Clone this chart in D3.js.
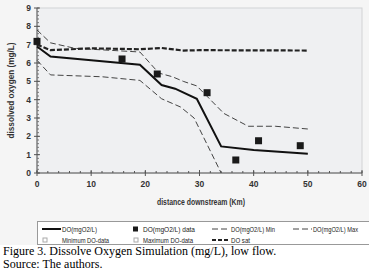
<!DOCTYPE html>
<html>
<head>
<meta charset="utf-8">
<script src="https://cdn.jsdelivr.net/npm/d3@7"></script>
<style>
  body { margin: 0; background: #fff; }
  svg { display: block; }
</style>
</head>
<body>
<svg id="svg"></svg>
<script>
// distance downstream (km) and DO values
let simKm    = [0, 2.5, 10, 19, 23, 25.5, 29.5, 34, 40, 50];
let simDO    = [6.9, 6.35, 6.15, 5.9, 4.8, 4.6, 4.05, 1.45, 1.25, 1.05];

let maxKm    = [0, 2.5, 7, 19, 22.5, 25, 27, 29.5, 31.5, 34.5, 39, 44, 50];
let maxDO    = [7.8, 7.1, 6.8, 6.6, 5.45, 5.25, 5.0, 4.75, 4.15, 3.25, 2.55, 2.55, 2.4];

let minKm    = [0, 2.5, 12, 19, 23, 26.5, 29, 34];
let minDO    = [6.15, 5.35, 5.25, 5.05, 4.05, 3.6, 3.0, 0];

let satKm    = [0, 2.5, 10, 19, 23, 27, 30, 50];
let satDO    = [7.0, 6.7, 6.8, 6.75, 6.82, 6.68, 6.7, 6.68];

let dataKm   = [0, 15.7, 22.2, 31.4, 36.7, 40.9, 48.6];
let dataDO   = [7.18, 6.22, 5.4, 4.38, 0.71, 1.76, 1.49];

let xTicks = [0, 10, 20, 30, 40, 50, 60];
let yTicks = [0, 1, 2, 3, 4, 5, 6, 7, 8, 9];

let legendRow1 = ["DO(mgO2/L)", "DO(mgO2/L) data", "DO(mgO2/L) Min", "DO(mgO2/L) Max"];
let legendRow2 = ["Minimum DO-data", "Maximum DO-data", "DO sat"];

//////////////////////////////////////////////////////////////////////////////

let width = 381;
let height = 276;
let margin = { top: 8, right: 19, bottom: 103, left: 37 };
let font = "'Liberation Sans Narrow', 'Liberation Sans', Arial, sans-serif";

let svg = d3.select("#svg")
  .attr("width", width)
  .attr("height", height);

// light gray chart box behind everything except the caption
svg.append("rect")
  .attr("x", 0).attr("y", 0)
  .attr("width", 369).attr("height", 245)
  .attr("fill", "#f5f5f5");

let x = d3.scaleLinear().domain([0, 60]).range([margin.left, width - margin.right]);
let y = d3.scaleLinear().domain([0, 9]).range([height - margin.bottom, margin.top]);

// plot area
svg.append("rect")
  .attr("x", x(0)).attr("y", y(9))
  .attr("width", x(60) - x(0)).attr("height", y(0) - y(9))
  .attr("fill", "#eff0f2")
  .attr("stroke", "#d2d3d5")
  .attr("stroke-width", 1);

// axes: major ticks cross the line, minor ticks inside
let xAxis = svg.append("g").attr("transform", "translate(0," + y(0) + ")");
xAxis.append("line")
  .attr("x1", x(0)).attr("x2", x(60))
  .attr("stroke", "#555");
xAxis.selectAll(".minor")
  .data(d3.range(0, 61, 2))
  .enter().append("line")
  .attr("x1", d => x(d)).attr("x2", d => x(d))
  .attr("y1", -2).attr("y2", 0)
  .attr("stroke", "#555");
xAxis.selectAll(".major")
  .data(xTicks)
  .enter().append("line")
  .attr("x1", d => x(d)).attr("x2", d => x(d))
  .attr("y1", -3).attr("y2", 3)
  .attr("stroke", "#555");
xAxis.selectAll("text")
  .data(xTicks)
  .enter().append("text")
  .attr("x", d => x(d)).attr("y", 14)
  .attr("text-anchor", "middle")
  .attr("font-family", font).attr("font-size", 8.5).attr("font-weight", "bold")
  .attr("fill", "#333")
  .text(d => d);

let yAxis = svg.append("g").attr("transform", "translate(" + x(0) + ",0)");
yAxis.append("line")
  .attr("y1", y(0)).attr("y2", y(9))
  .attr("stroke", "#555");
yAxis.selectAll(".minor")
  .data(d3.range(0, 9.01, 0.2))
  .enter().append("line")
  .attr("y1", d => y(d)).attr("y2", d => y(d))
  .attr("x1", 0).attr("x2", 2)
  .attr("stroke", "#777");
yAxis.selectAll(".major")
  .data(yTicks)
  .enter().append("line")
  .attr("y1", d => y(d)).attr("y2", d => y(d))
  .attr("x1", -3).attr("x2", 3)
  .attr("stroke", "#555");
yAxis.selectAll("text")
  .data(yTicks)
  .enter().append("text")
  .attr("x", -6).attr("y", d => y(d) + 3)
  .attr("text-anchor", "end")
  .attr("font-family", font).attr("font-size", 8.5).attr("font-weight", "bold")
  .attr("fill", "#333")
  .text(d => d);

// axis titles (condensed to the width seen in the figure)
svg.append("text")
  .attr("x", 157).attr("y", 205)
  .attr("textLength", 88).attr("lengthAdjust", "spacingAndGlyphs")
  .attr("font-family", font).attr("font-size", 8.5).attr("font-weight", "bold")
  .attr("fill", "#333")
  .text("distance downstream (Km)");

svg.append("text")
  .attr("transform", "translate(14," + (y(4.5) + 48) + ") rotate(-90)")
  .attr("textLength", 96).attr("lengthAdjust", "spacingAndGlyphs")
  .attr("font-family", font).attr("font-size", 8.5).attr("font-weight", "bold")
  .attr("fill", "#333")
  .text("dissolved oxygen (mg/L)");

// lines
let line = d3.line().x(d => x(d[0])).y(d => y(d[1]));

function drawSeries(km, vals, stroke, w, dash) {
  svg.append("path")
    .datum(d3.zip(km, vals))
    .attr("d", line)
    .attr("fill", "none")
    .attr("stroke", stroke)
    .attr("stroke-width", w)
    .attr("stroke-dasharray", dash);
}

drawSeries(maxKm, maxDO, "#444", 1, "6,3");
drawSeries(minKm, minDO, "#444", 1, "6,3");
drawSeries(satKm, satDO, "#222", 2.2, "5,2");
drawSeries(simKm, simDO, "#111", 2, null);

// measured data squares
svg.selectAll(".obs")
  .data(d3.zip(dataKm, dataDO))
  .enter().append("rect")
  .attr("x", d => x(d[0]) - 3.5)
  .attr("y", d => y(d[1]) - 3.5)
  .attr("width", 7).attr("height", 7)
  .attr("fill", "#1a1a1a");

//////////////////////////////////////////////////////////////////////////////
// legend

let lg = svg.append("g");
lg.append("rect")
  .attr("x", 37.5).attr("y", 221.5)
  .attr("width", 340).attr("height", 23)
  .attr("fill", "#fff")
  .attr("stroke", "#999");
// the box runs past the gray chart edge; cover its right end
svg.append("rect")
  .attr("x", 369).attr("y", 215)
  .attr("width", 12).attr("height", 32)
  .attr("fill", "#fff");

let colX = [42, 133, 212, 293];
let textX = [62, 143, 231, 313];
let textW = [35, 52, 44, 45];
let textW2 = [47, 50, 19];
let row1Y = 229, row2Y = 240;

function legendText(tx, ty, s, w) {
  lg.append("text")
    .attr("x", tx).attr("y", ty + 2.5)
    .attr("textLength", w).attr("lengthAdjust", "spacingAndGlyphs")
    .attr("font-family", font).attr("font-size", 7)
    .attr("fill", "#222")
    .text(s);
}

// row 1
lg.append("line").attr("x1", colX[0]).attr("x2", 61).attr("y1", row1Y).attr("y2", row1Y)
  .attr("stroke", "#111").attr("stroke-width", 2);
lg.append("rect").attr("x", colX[1]).attr("y", row1Y - 2.5).attr("width", 5).attr("height", 5)
  .attr("fill", "#1a1a1a");
lg.append("line").attr("x1", colX[2]).attr("x2", 230).attr("y1", row1Y).attr("y2", row1Y)
  .attr("stroke", "#444").attr("stroke-width", 1).attr("stroke-dasharray", "6,3");
lg.append("line").attr("x1", colX[3]).attr("x2", 312).attr("y1", row1Y).attr("y2", row1Y)
  .attr("stroke", "#444").attr("stroke-width", 1).attr("stroke-dasharray", "6,3");
legendRow1.forEach((s, i) => legendText(textX[i], row1Y, s, textW[i]));

// row 2
lg.append("rect").attr("x", 43).attr("y", row2Y - 2).attr("width", 4).attr("height", 4)
  .attr("fill", "none").attr("stroke", "#aaa");
lg.append("rect").attr("x", 134).attr("y", row2Y - 2).attr("width", 4).attr("height", 4)
  .attr("fill", "none").attr("stroke", "#aaa");
lg.append("line").attr("x1", colX[2]).attr("x2", 230).attr("y1", row2Y).attr("y2", row2Y)
  .attr("stroke", "#222").attr("stroke-width", 2).attr("stroke-dasharray", "4,2");
legendRow2.forEach((s, i) => legendText(textX[i], row2Y, s, textW2[i]));

// caption
svg.append("text")
  .attr("x", 3).attr("y", 255)
  .attr("font-family", "'Liberation Serif', 'Times New Roman', serif")
  .attr("font-size", 12)
  .attr("fill", "#000")
  .text("Figure 3. Dissolve Oxygen Simulation (mg/L), low flow.");
svg.append("text")
  .attr("x", 3).attr("y", 268)
  .attr("font-family", "'Liberation Serif', 'Times New Roman', serif")
  .attr("font-size", 12)
  .attr("fill", "#000")
  .text("Source: The authors.");
</script>
</body>
</html>
